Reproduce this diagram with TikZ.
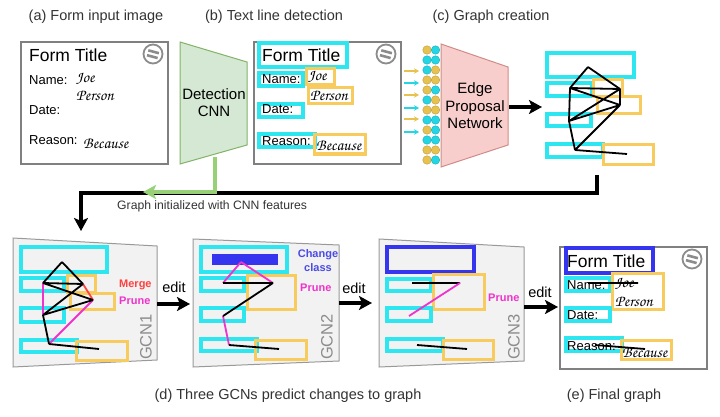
\documentclass[tikz,border=0pt]{standalone}
\usepackage{fontspec}
\setmainfont{Liberation Sans}
\newfontfamily\hand{TeX Gyre Chorus}
\usetikzlibrary{arrows.meta}
\definecolor{cyanc}{HTML}{2EE6F0}
\definecolor{yelc}{HTML}{F7CB5E}
\definecolor{doty}{HTML}{E8C24E}
\definecolor{dotc}{HTML}{22D6E4}
\definecolor{cnnfill}{HTML}{D5E8D4}
\definecolor{cnndraw}{HTML}{82B366}
\definecolor{garrow}{HTML}{97D077}
\definecolor{epnfill}{HTML}{F8CECC}
\definecolor{epndraw}{HTML}{D08C88}
\definecolor{blueb}{HTML}{3535F0}
\definecolor{magc}{HTML}{F032CC}
\definecolor{redc}{HTML}{FF4040}
\definecolor{chblue}{HTML}{4A4AE6}
\definecolor{txtc}{HTML}{333333}
\definecolor{panelf}{HTML}{F2F2F2}
\tikzset{
  cyanbox/.style={draw=cyanc,line width=3.2pt},
  yelbox/.style={draw=yelc,line width=3pt},
  bluebox/.style={draw=blueb,line width=3.2pt},
  formbox/.style={draw=black!50,line width=1.1pt,fill=white},
  panel/.style={draw=black!40,line width=1pt,fill=panelf},
  gedge/.style={line width=1.8pt,black},
  medge/.style={line width=1.8pt,magc},
  redge/.style={line width=1.8pt,redc},
  title/.style={anchor=base,font=\fontsize{14.5}{16}\selectfont,text=txtc,inner sep=0pt},
  ftitle/.style={anchor=base west,font=\fontsize{17.5}{20}\selectfont,inner sep=0pt},
  flabel/.style={anchor=base west,font=\fontsize{13}{15}\selectfont,inner sep=0pt},
  hw/.style={anchor=base west,font=\hand\fontsize{16}{18}\selectfont,inner sep=0pt},
  bigarrow/.style={line width=3.4pt,-{Stealth[length=13pt,width=14pt,inset=3pt]}},
  smallarrow/.style={line width=1.2pt,-{Stealth[length=5pt,width=5.5pt]}},
  gcnlabel/.style={rotate=90,font=\fontsize{16.5}{18}\selectfont,text=black!45,inner sep=0pt},
  editlabel/.style={anchor=base,font=\fontsize{14.5}{16}\selectfont,inner sep=0pt},
  oplabel/.style={anchor=base west,font=\bfseries\fontsize{11}{13}\selectfont,inner sep=0pt},
  dotyel/.style={circle,fill=doty,draw=doty!80!black,line width=0.4pt,minimum size=8.5pt,inner sep=0pt},
  dotcy/.style={circle,fill=dotc,draw=dotc!80!black,line width=0.4pt,minimum size=8.5pt,inner sep=0pt},
}
\newcommand{\formlogo}[2]{%
  \node[circle,draw=black!45,line width=1.8pt,minimum size=19pt,inner sep=0pt] (#2) at (#1) {};
  \draw[black!45,line width=2.6pt,rotate around={-15:(#1)}] ([shift={(-5.5,-2.3)}]#1) -- ([shift={(5.5,-2.3)}]#1);
  \draw[black!45,line width=2.6pt,rotate around={-15:(#1)}] ([shift={(-5.5,2.7)}]#1) -- ([shift={(5.5,2.7)}]#1);
}
\begin{document}
\begin{tikzpicture}[x=1pt,y=-1pt]
\useasboundingbox[fill=white] (0,0) rectangle (720,417);

% ---------- titles ----------
\node[title] (ta) at (96,21) {(a) Form input image};
\node[title] (tb) at (274,21) {(b) Text line detection};
\node[title] (tc) at (491,21) {(c) Graph creation};
\node[title] (td) at (288,399) {(d) Three GCNs predict changes to graph};
\node[title] (te) at (614,399) {(e) Final graph};

% ---------- (a) form ----------
\draw[formbox] (21,42) rectangle (168,164);
\node[ftitle] (aft) at (29,62) {Form Title};
\formlogo{153,54}{alogo}
\node[flabel] (aname) at (29,85) {Name:};
\node[hw] (ajoe) at (76,83) {Joe};
\node[hw] (aper) at (76,101) {Person};
\node[flabel] (adate) at (29,115) {Date:};
\node[flabel] (areason) at (29,145) {Reason:};
\node[hw] (abec) at (83,149) {Because};

% ---------- Detection CNN ----------
\draw[fill=cnnfill,draw=cnndraw,line width=1pt] (180,42) -- (247,62) -- (247,145) -- (180,164) -- cycle;
\node[align=center,font=\fontsize{15}{17}\selectfont,inner sep=0pt] (cnn) at (214,103) {Detection\\CNN};
\coordinate (cnnbot) at (215,157);

% ---------- (b) form ----------
\draw[formbox] (254,42) rectangle (401,164);
\draw[cyanbox] (259,43) rectangle (347,67);
\draw[cyanbox] (259,73) rectangle (303,86);
\draw[yelbox] (306,69) rectangle (334,85);
\draw[yelbox] (308,88) rectangle (352,104);
\draw[cyanbox] (259,104) rectangle (303,117);
\draw[cyanbox] (259,134) rectangle (315,147);
\draw[yelbox] (314,135) rectangle (365,154);
\node[ftitle] (bft) at (262,62) {Form Title};
\formlogo{386,54}{blogo}
\node[flabel] (bname) at (262,84) {Name:};
\node[hw] (bjoe) at (308,81) {Joe};
\node[hw] (bper) at (310,101) {Person};
\node[flabel] (bdate) at (262,114) {Date:};
\node[flabel] (breason) at (262,146) {Reason:};
\node[hw] (bbec) at (316,150) {Because};

% small arrows
\foreach \yy/\cc [count=\i] in {71/doty,83/dotc,95/doty,108/dotc,119/doty,132/dotc}{
  \coordinate (sa\i) at (404,\yy);
  \coordinate (sb\i) at (419,\yy);
  \draw[smallarrow,draw=\cc] (sa\i) -- (sb\i);
}

% dots
\foreach \l/\r [count=\i] in {dotyel/dotcy,dotcy/dotcy,dotcy/dotyel,dotyel/dotyel,dotyel/dotcy,dotcy/dotyel,dotyel/dotyel,dotcy/dotcy,dotyel/dotcy,dotcy/dotcy,dotyel/dotyel,dotyel/dotcy}{
  \node[\l] (dl\i) at (427,{50+(\i-1)*10}) {};
  \node[\r] (dr\i) at (435.5,{50+(\i-1)*10}) {};
}

% ---------- EPN ----------
\draw[fill=epnfill,draw=epndraw,line width=1pt] (441,44) -- (508,67) -- (508,145) -- (441,167) -- cycle;
\node[align=center,font=\fontsize{15}{17.5}\selectfont,inner sep=0pt] (epn) at (475,106) {Edge\\Proposal\\Network};
\coordinate (epnr) at (509,107);
\coordinate (grl) at (542,107);
\draw[bigarrow] (epnr) -- (grl);

% ---------- (c) graph ----------
\draw[cyanbox] (547,53) rectangle (634,77);
\draw[cyanbox] (547,83) rectangle (592,96);
\draw[yelbox] (593,80) rectangle (622,97);
\draw[yelbox] (597,97) rectangle (640,114);
\draw[cyanbox] (547,114) rectangle (591,126);
\draw[cyanbox] (547,144) rectangle (603,157);
\draw[yelbox] (603,145) rectangle (653,164);
\coordinate (c1) at (588,67);
\coordinate (c2) at (570,88);
\coordinate (c3) at (620,89);
\coordinate (c4) at (620,105);
\coordinate (c5) at (569,121);
\coordinate (c6) at (575,150);
\coordinate (c7) at (627,154);
\draw[gedge,line join=round] (c1)--(c2) (c1)--(c3) (c2)--(c3) (c2)--(c4) (c3)--(c4) (c3)--(c5) (c4)--(c5) (c4)--(c6) (c2)--(c5) (c5)--(c6) (c6)--(c7);

% ---------- feedback arrows ----------
\coordinate (fb0) at (597,175);
\coordinate (fb1) at (597,193);
\coordinate (fb2) at (81,193);
\coordinate (fb3) at (81,231);
\draw[line width=3.4pt,line join=miter,-{Stealth[length=13pt,width=14pt,inset=3pt]}] (fb0) -- (fb1) -- (fb2) -- (fb3);
\coordinate (gc1) at (215,192);
\coordinate (gc2) at (143,192);
\draw[garrow,line width=3.4pt,-{Stealth[length=13pt,width=14pt,inset=3pt]}] (cnnbot) -- (gc1) -- (gc2);
\node[anchor=base west,font=\fontsize{12.2}{14}\selectfont,text=txtc,inner sep=0pt] (gi) at (117,209) {Graph initialized with CNN features};

% ---------- GCN1 ----------
\draw[panel] (13,238) -- (157,246) -- (157,360) -- (13,367) -- cycle;
\draw[cyanbox] (21,247) rectangle (107,272);
\draw[cyanbox] (21,278) rectangle (64,291);
\draw[yelbox] (67,275) rectangle (95,292);
\draw[yelbox] (70,293) rectangle (114,309);
\draw[cyanbox] (21,308) rectangle (64,322);
\draw[cyanbox] (21,340) rectangle (77,352);
\draw[yelbox] (76,341) rectangle (127,360);
\coordinate (p1) at (62,262);
\coordinate (p2) at (43,283);
\coordinate (p3) at (83,284);
\coordinate (p4) at (93,300);
\coordinate (p5) at (43,315);
\coordinate (p6) at (49,344);
\coordinate (p7) at (99,349);
\draw[medge] (p2)--(p5) (p4)--(p6);
\draw[redge] (p3)--(p4);
\draw[gedge,line join=round] (p1)--(p2) (p1)--(p3) (p2)--(p3) (p2)--(p4) (p3)--(p5) (p4)--(p5) (p5)--(p6) (p6)--(p7);
\node[oplabel,text=redc] (merge1) at (119,287) {Merge};
\node[oplabel,text=magc] (prune1) at (119,304) {Prune};
\node[gcnlabel] (gcn1) at (146,337) {GCN1};
\node[editlabel] (edit1) at (174,292) {edit};
\coordinate (e1a) at (157,304);
\coordinate (e1b) at (190,304);
\draw[bigarrow] (e1a) -- (e1b);

% ---------- GCN2 ----------
\draw[panel] (193,239) -- (339,245) -- (339,361) -- (193,367) -- cycle;
\draw[cyanbox] (201,247) rectangle (287,272);
\fill[blueb] (212,254) rectangle (278,265);
\draw[cyanbox] (201,278) rectangle (244,291);
\draw[yelbox] (247,275) rectangle (295,309);
\draw[cyanbox] (201,308) rectangle (244,321);
\draw[cyanbox] (201,339) rectangle (257,351);
\draw[yelbox] (255,340) rectangle (306,359);
\coordinate (q1) at (241,262);
\coordinate (q2) at (223,283);
\coordinate (q3) at (273,283);
\coordinate (q5) at (223,316);
\coordinate (q6) at (229,345);
\coordinate (q7) at (279,349);
\draw[medge] (q1)--(q2) (q1)--(q3) (q5)--(q6);
\draw[gedge] (q2)--(q3) (q3)--(q5) (q6)--(q7);
\node[oplabel,text=chblue,anchor=base] (chg) at (318,257) {Change};
\node[oplabel,text=chblue,anchor=base] (cls) at (318,271) {class};
\node[oplabel,text=magc] (prune2) at (300,291) {Prune};
\node[gcnlabel] (gcn2) at (327,337) {GCN2};
\node[editlabel] (edit2) at (354,293) {edit};
\coordinate (e2a) at (339,303);
\coordinate (e2b) at (372,303);
\draw[bigarrow] (e2a) -- (e2b);

% ---------- GCN3 ----------
\draw[panel] (379,239) -- (524,247) -- (524,361) -- (379,367) -- cycle;
\draw[bluebox] (387,247) rectangle (474,272);
\draw[cyanbox] (387,279) rectangle (431,291);
\draw[yelbox] (433,274) rectangle (484,309);
\draw[cyanbox] (387,308) rectangle (431,321);
\draw[cyanbox] (387,339) rectangle (443,351);
\draw[yelbox] (443,340) rectangle (493,359);
\coordinate (r1) at (412,283);
\coordinate (r2) at (460,283);
\coordinate (r3) at (409,316);
\coordinate (r4) at (417,345);
\coordinate (r5) at (467,349);
\draw[gedge] (r1)--(r2) (r4)--(r5);
\draw[medge] (r2)--(r3);
\node[oplabel,text=magc] (prune3) at (488,301) {Prune};
\node[gcnlabel] (gcn3) at (514,337) {GCN3};
\node[editlabel] (edit3) at (540,297) {edit};
\coordinate (e3a) at (524,307);
\coordinate (e3b) at (558,307);
\draw[bigarrow] (e3a) -- (e3b);

% ---------- (e) final ----------
\draw[formbox] (560,247) rectangle (707,369);
\draw[bluebox] (566,248) rectangle (653,273);
\draw[cyanbox] (566,278) rectangle (610,291);
\draw[yelbox] (612,273) rectangle (663,309);
\draw[cyanbox] (566,308) rectangle (610,321);
\draw[cyanbox] (566,338) rectangle (622,351);
\draw[yelbox] (621,340) rectangle (671,359);
\node[ftitle] (eft) at (567,267) {Form Title};
\formlogo{692,259}{elogo}
\node[flabel] (ename) at (567,289) {Name:};
\node[hw] (ejoe) at (615,287) {Joe};
\node[hw] (eper) at (615,306) {Person};
\node[flabel] (edate) at (567,319) {Date:};
\node[flabel] (ereason) at (567,350) {Reason:};
\node[hw] (ebec) at (622,357) {Because};
\coordinate (f1) at (588,283);
\coordinate (f2) at (638,283);
\coordinate (f3) at (595,345);
\coordinate (f4) at (645,349);
\draw[gedge] (f1)--(f2) (f3)--(f4);
\end{tikzpicture}
\end{document}
